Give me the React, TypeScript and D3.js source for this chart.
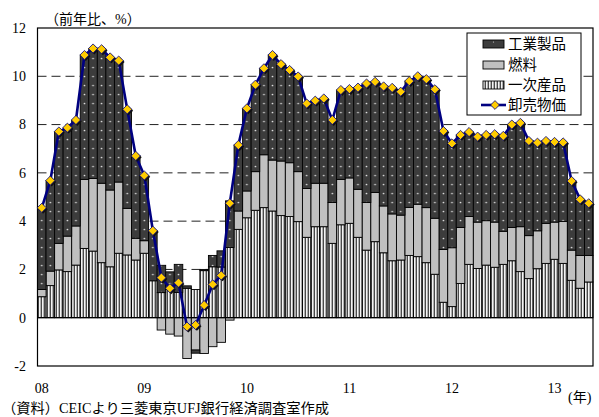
import React from "react";
import * as d3 from "d3";

// ---- categories: monthly, 2008-01 .. 2013-05
const months: string[] = [];
for (let yr = 2008; yr <= 2013; yr++) {
  for (let m = 1; m <= 12; m++) {
    if (yr === 2013 && m > 5) break;
    months.push(`${yr}-${String(m).padStart(2, "0")}`);
  }
}

// 一次産品 (primary products) contribution, % pts
const primary = [
  0.87, 1.33, 1.98, 1.91, 2.18, 2.87, 2.76, 2.28, 2.11, 2.67, 2.6, 2.39,
  2.67, 1.53, 1.04, 1.18, 1.05, 1.22, 1.17, 1.95, 2.11, 2.1, 2.91, 3.66,
  4.14, 4.45, 4.56, 4.42, 4.23, 4.19, 3.98, 3.33, 3.77, 3.77, 3.08, 3.85,
  3.91, 3.33, 2.8, 3.15, 2.69, 2.36, 2.39, 2.58, 2.53, 2.28, 1.8, 0.64,
  0.46, 1.42, 2.21, 2.04, 2.18, 2.09, 2.21, 2.36, 1.91, 1.62, 2.03, 2.25,
  2.42, 2.25, 1.55, 1.22, 1.48,
];
// 燃料 (fuel) contribution
const fuel = [
  0.3, 0.6, 1.1, 1.47, 1.62, 2.86, 3.01, 3.29, 3.18, 2.95, 1.93, 0.9,
  0.52, 0.0, -0.51, -0.68, -0.76, -1.69, -1.34, -1.48, -1.2, -1.02, -0.1, 0.76,
  1.11, 1.6, 2.19, 2.11, 2.26, 2.23, 2.07, 2.02, 1.8, 1.8, 1.69, 1.88,
  1.88, 1.99, 1.97, 2.04, 1.94, 1.94, 1.86, 1.99, 2.17, 2.28, 2.32, 2.19,
  2.44, 2.32, 1.98, 1.92, 1.84, 1.87, 1.37, 1.38, 1.86, 1.78, 1.57, 1.66,
  1.54, 1.74, 1.25, 1.36, 1.1,
];
// 工業製品 (industrial products) contribution
const industrial = [
  3.38, 3.75, 4.63, 4.49, 4.39, 5.15, 5.38, 5.55, 5.49, 5.03, 4.1, 3.41,
  2.7, 2.07, 1.13, 0.72, 1.16, 0.1, -0.13, 0.05, 0.47, 0.67, 1.93, 2.73,
  3.42, 3.6, 3.58, 4.35, 4.01, 3.84, 3.94, 3.52, 3.42, 3.51, 3.42, 3.7,
  3.68, 4.21, 4.93, 4.58, 4.95, 5.22, 5.11, 5.23, 5.3, 5.32, 5.34, 4.9,
  4.32, 3.83, 3.5, 3.54, 3.55, 3.64, 3.95, 4.26, 4.3, 3.92, 3.65, 3.41,
  3.32, 3.27, 2.86, 2.32, 2.16,
];
// 卸売物価 (wholesale prices), % y/y
const wholesale = [
  4.55, 5.68, 7.71, 7.87, 8.19, 10.88, 11.15, 11.12, 10.78, 10.65, 8.63, 6.7,
  5.89, 3.6, 1.66, 1.22, 1.45, -0.37, -0.3, 0.52, 1.38, 1.75, 4.74, 7.15,
  8.67, 9.65, 10.33, 10.88, 10.5, 10.26, 9.99, 8.87, 8.99, 9.08, 8.19, 9.43,
  9.47, 9.53, 9.7, 9.77, 9.58, 9.52, 9.36, 9.8, 10.0, 9.88, 9.46, 7.73,
  7.22, 7.57, 7.69, 7.5, 7.57, 7.6, 7.53, 8.0, 8.07, 7.32, 7.25, 7.32,
  7.28, 7.26, 5.66, 4.9, 4.74,
];

const yTicks = [-2, 0, 2, 4, 6, 8, 10, 12];
const gridTicks = [2, 4, 6, 8, 10];
const yearLabels = ["08", "09", "10", "11", "12", "13"];
const yearStartIdx = [0, 12, 24, 36, 48, 60];

const seriesKeys = ["primary", "fuel", "industrial"];
const legendItems = ["工業製品", "燃料", "一次産品", "卸売物価"];

const FONT = "'Liberation Serif', 'Noto Sans CJK JP', serif";

export default function App() {
  const W = 599, H = 417;
  const left = 37.5, right = 593, top = 28, bottom = 366;

  const x = d3.scaleBand<string>().domain(months).range([left, right]).padding(0);
  const y = d3.scaleLinear().domain([-2, 12]).range([bottom, top]);
  const bw = x.bandwidth();

  const table = months.map((m, i) => ({
    month: m,
    primary: primary[i],
    fuel: fuel[i],
    industrial: industrial[i],
  }));
  const stack = d3
    .stack<any>()
    .keys(seriesKeys)
    .offset(d3.stackOffsetDiverging);
  const stacked = stack(table);

  const fills: Record<string, string> = {
    primary: "url(#stripe)",
    fuel: "#c0c0c0",
    industrial: "url(#dots)",
  };

  const line = d3
    .line<number>()
    .x((_, i) => (x(months[i]) as number) + bw / 2)
    .y((d) => y(d));

  const diamond = (cx: number, cy: number, r: number) =>
    `M${cx},${cy - r}L${cx + r},${cy}L${cx},${cy + r}L${cx - r},${cy}Z`;

  const lx = 467, ly = 33, lw = 114, lh = 82;
  const rowY = [44, 65, 85, 105];

  return (
    <svg
      width={W}
      height={H}
      style={{ position: "absolute", left: 0, top: 0, background: "#fff" }}
      fontFamily={FONT}
    >
      <defs>
        <pattern id="dots" patternUnits="userSpaceOnUse" x={left} y={0} width={bw} height={9}>
          <rect width={bw} height={9} fill="#3c3c3c" />
          <circle cx={bw / 2} cy={4.5} r={0.85} fill="#e0e0e0" />
        </pattern>
        <pattern id="stripe" patternUnits="userSpaceOnUse" x={0} y={0} width={3} height={4}>
          <rect width={3} height={4} fill="#f4f4f4" />
          <rect x={1.6} width={1.4} height={4} fill="#4a4a4a" />
        </pattern>
        <pattern id="dotsLeg" patternUnits="userSpaceOnUse" x={483} y={40} width={21} height={8}>
          <rect width={21} height={8} fill="#3c3c3c" />
          <circle cx={10.5} cy={2} r={0.6} fill="#ccc" />
        </pattern>
      </defs>

      {/* grid */}
      {gridTicks.map((t) => (
        <line
          key={t}
          x1={left}
          x2={right}
          y1={y(t)}
          y2={y(t)}
          stroke="#222"
          strokeWidth={1}
          strokeDasharray="9,5"
        />
      ))}

      {/* bars */}
      {stacked.map((s) => (
        <g key={s.key}>
          {s.map((d, i) => {
            const y0 = y(d[0]);
            const y1 = y(d[1]);
            const h = Math.abs(y0 - y1);
            if (h < 0.01) return null;
            return (
              <rect
                key={i}
                x={x(months[i])}
                y={Math.min(y0, y1)}
                width={bw}
                height={h}
                fill={fills[s.key]}
                stroke="#000"
                strokeWidth={0.9}
              />
            );
          })}
        </g>
      ))}

      {/* zero line */}
      <line x1={left} x2={right} y1={y(0)} y2={y(0)} stroke="#000" strokeWidth={1.2} />

      {/* frame */}
      <rect x={left} y={top} width={right - left} height={bottom - top} fill="none" stroke="#000" strokeWidth={1.2} />

      {/* line series */}
      <path d={line(wholesale) || ""} fill="none" stroke="#000080" strokeWidth={2.6} strokeLinejoin="round" />
      {wholesale.map((v, i) => {
        const cx = (x(months[i]) as number) + bw / 2;
        const cy = y(v);
        return (
          <g key={i}>
            <path d={diamond(cx + 1.3, cy + 1.3, 4.6)} fill="#111" />
            <path d={diamond(cx, cy, 4.6)} fill="#ffcc00" stroke="#000080" strokeWidth={0.8} />
          </g>
        );
      })}

      {/* y tick labels */}
      {yTicks.map((t) => (
        <text key={t} x={26} y={y(t)} dy="0.35em" textAnchor="end" fontSize={14} fill="#000">
          {t}
        </text>
      ))}

      {/* x labels */}
      {yearLabels.map((lab, k) => (
        <text
          key={lab}
          x={(x(months[yearStartIdx[k]]) as number) + bw / 2}
          y={393}
          textAnchor="middle"
          fontSize={14}
          fill="#000"
        >
          {lab}
        </text>
      ))}
      <text x={568} y={402} fontSize={14} fill="#000">(年)</text>
      <text x={45} y={24} fontSize={14} fill="#000">（前年比、%）</text>
      <text x={2} y={413} fontSize={14} fill="#000" textLength={327} lengthAdjust="spacingAndGlyphs">（資料）CEICより三菱東京UFJ銀行経済調査室作成</text>

      {/* legend */}
      <rect x={lx} y={ly} width={lw} height={lh} fill="#fff" stroke="#000" strokeWidth={1} />
      <rect x={483} y={rowY[0] - 4} width={21} height={8} fill="url(#dotsLeg)" stroke="#000" strokeWidth={0.9} />
      <rect x={483} y={rowY[1] - 4} width={21} height={8} fill="#c0c0c0" stroke="#000" strokeWidth={0.9} />
      <rect x={483} y={rowY[2] - 4} width={21} height={8} fill="url(#stripe)" stroke="#000" strokeWidth={0.9} />
      <line x1={481} x2={506} y1={rowY[3]} y2={rowY[3]} stroke="#000080" strokeWidth={2.6} />
      <path d={diamond(495, rowY[3], 4.4)} fill="#ffcc00" stroke="#000080" strokeWidth={0.8} />
      {legendItems.map((t, k) => (
        <text key={t} x={508} y={rowY[k]} dy="0.36em" fontSize={14.5} fill="#000">
          {t}
        </text>
      ))}
    </svg>
  );
}
